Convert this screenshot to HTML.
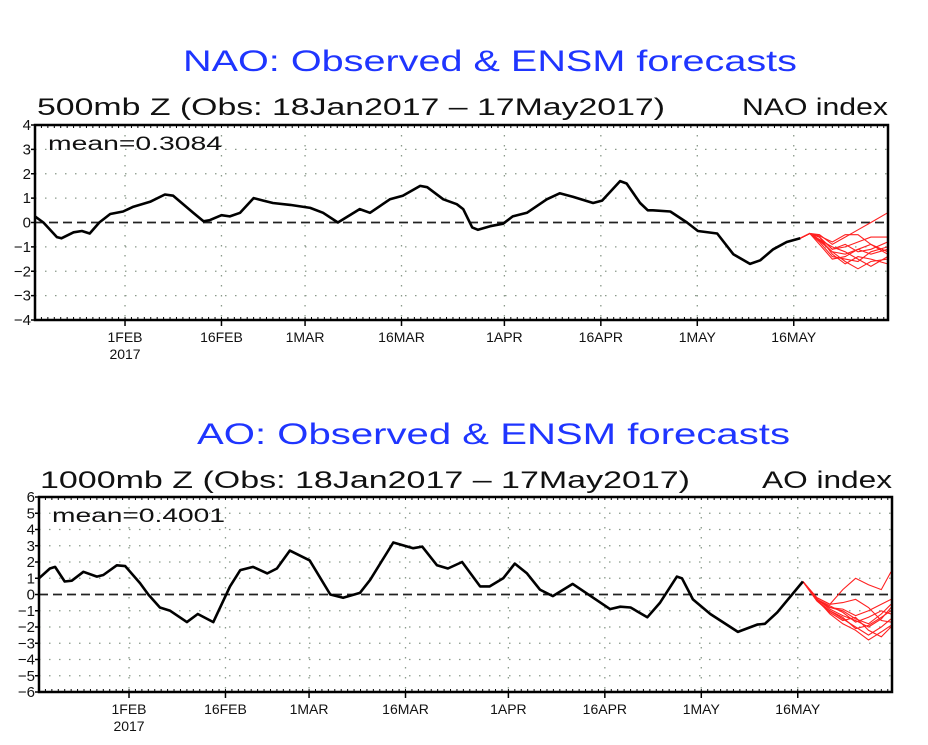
<!DOCTYPE html>
<html><head><meta charset="utf-8">
<style>
html,body{margin:0;padding:0;background:#fff;}
svg{display:block;font-family:"Liberation Sans",sans-serif;}
</style></head>
<body>
<svg id="svg" width="928" height="745" viewBox="0 0 928 745"></svg>
<script>
// ---- data ----
const monthTickDays = [14, 29, 42, 57, 73, 88, 103, 118];
const monthTickLabels = ["1FEB", "16FEB", "1MAR", "16MAR", "1APR", "16APR", "1MAY", "16MAY"];
const naoYTicks = [4,3,2,1,0,-1,-2,-3,-4];
const aoYTicks = [6,5,4,3,2,1,0,-1,-2,-3,-4,-5,-6];

const naoObsDays = [0,1.3,3.4,4.1,6,7.3,8.5,10,11.7,13.7,15.3,17.9,20.2,21.5,24.6,26.2,27.2,29,30.3,31.9,34,35.5,37,39.7,42.8,44.8,47.1,50.5,52.1,55.2,57.2,59.9,61,63.5,65.6,66.6,68,68.9,70.8,72.8,74.3,76.5,79.6,81.6,83.7,86.8,88.2,91,92,94.1,95.3,96.1,98.8,101.4,103.1,106.1,108.6,111.2,112.8,114.8,116.9,119];
const naoObsVals = [0.25,0.0,-0.6,-0.65,-0.4,-0.35,-0.45,0.0,0.35,0.45,0.65,0.85,1.15,1.1,0.4,0.05,0.1,0.3,0.25,0.4,1.0,0.9,0.8,0.72,0.6,0.4,0.0,0.55,0.4,0.95,1.1,1.5,1.45,0.95,0.75,0.55,-0.2,-0.3,-0.15,-0.05,0.25,0.4,0.95,1.2,1.05,0.8,0.9,1.7,1.6,0.8,0.5,0.5,0.45,0.0,-0.35,-0.45,-1.3,-1.7,-1.55,-1.1,-0.8,-0.65];
const naoFcDays = [119,120.5,122,124,126,128,130,132.6];
const naoMembers = [
 [-0.65,-0.45,-0.5,-0.9,-0.6,-0.3,0.0,0.4],
 [-0.65,-0.45,-0.6,-1.1,-1.0,-0.8,-0.6,-0.6],
 [-0.65,-0.45,-0.7,-1.2,-1.3,-1.1,-0.9,-1.3],
 [-0.65,-0.45,-0.8,-1.4,-1.5,-1.6,-1.2,-1.0],
 [-0.65,-0.45,-0.6,-1.3,-1.7,-1.4,-1.5,-1.7],
 [-0.65,-0.45,-0.7,-1.0,-1.2,-1.5,-1.8,-1.4],
 [-0.65,-0.45,-0.6,-1.1,-0.9,-1.2,-1.1,-0.8],
 [-0.65,-0.45,-0.9,-1.5,-1.4,-1.1,-1.3,-1.1],
 [-0.65,-0.45,-0.55,-0.8,-0.5,-0.5,-0.9,-1.2],
 [-0.65,-0.45,-0.75,-1.2,-1.6,-1.9,-1.6,-1.5]
];

const aoObsDays = [0,1.7,2.5,4,5.1,6.9,9,10,12.1,13.4,15.7,17,18.8,20.4,23,24.7,27.1,29.7,31.3,33.3,35.5,37,39,42.1,45.3,47.3,49.9,51.5,55.1,58.2,59.6,61.9,63.6,65.8,68.6,70.1,72.2,74,75.9,77.9,79.9,83,86.2,88.8,90.4,92,94.6,96.6,99.2,100,101.7,104.4,108.7,111.7,112.9,114.8,118.8];
const aoObsVals = [1.0,1.6,1.7,0.8,0.85,1.4,1.1,1.2,1.8,1.75,0.7,0.0,-0.8,-1.0,-1.7,-1.2,-1.7,0.5,1.5,1.7,1.3,1.6,2.7,2.1,0.0,-0.2,0.1,0.9,3.2,2.85,2.95,1.8,1.6,2.0,0.5,0.5,1.0,1.9,1.3,0.3,-0.1,0.65,-0.2,-0.9,-0.75,-0.8,-1.4,-0.5,1.1,1.0,-0.3,-1.2,-2.3,-1.85,-1.8,-1.1,0.8];
const aoFcDays = [118.8,121,123,125,127,129,131,132.5];
const aoMembers = [
 [0.8,-0.2,-0.6,0.3,1.0,0.6,0.3,1.4],
 [0.8,-0.3,-0.8,-0.9,-1.3,-1.0,-0.6,-0.3],
 [0.8,-0.3,-0.9,-1.3,-1.6,-2.0,-1.5,-0.8],
 [0.8,-0.4,-1.0,-1.5,-2.0,-2.5,-2.0,-1.5],
 [0.8,-0.3,-1.2,-1.8,-2.2,-2.8,-2.3,-1.9],
 [0.8,-0.3,-0.8,-1.0,-1.5,-1.8,-1.2,-0.6],
 [0.8,-0.4,-1.1,-1.6,-1.4,-2.2,-2.6,-2.0],
 [0.8,-0.3,-0.7,-1.1,-1.7,-1.4,-1.0,-1.2],
 [0.8,-0.2,-0.6,-0.5,-0.3,-0.8,-1.6,-1.7],
 [0.8,-0.4,-1.0,-1.4,-2.1,-1.9,-1.4,-1.0]
];

const NS = "http://www.w3.org/2000/svg";
const svg = document.getElementById("svg");
function mk(tag, attrs, parent){
  const e = document.createElementNS(NS, tag);
  for (const k in attrs) e.setAttribute(k, attrs[k]);
  (parent||svg).appendChild(e);
  return e;
}
function txt(s, attrs, parent){ const t = mk("text", attrs, parent); t.textContent = s; return t; }

function drawPanel(cfg){
  const g = mk("g", {});
  
  
  const L=cfg.L,R=cfg.R,T=cfg.T,B=cfg.B;
  const xs = d => L + d*cfg.dx;
  const ys = v => T + (cfg.ymax - v)/(cfg.ymax - cfg.ymin)*(B-T);
  // titles
  const t1 = txt(cfg.title, {x:cfg.tx0, y:cfg.ty, "font-size":30, fill:"#1f35ff", textLength:cfg.tx1-cfg.tx0, lengthAdjust:"spacingAndGlyphs"}, g);
  
  
  const t2 = txt(cfg.sub, {x:cfg.sx0, y:cfg.sy, "font-size":24, fill:"#111", textLength:cfg.sx1-cfg.sx0, lengthAdjust:"spacingAndGlyphs"}, g);
  
  
  const t3 = txt(cfg.idx, {x:cfg.ix0, y:cfg.sy, "font-size":24, fill:"#111", textLength:cfg.ix1-cfg.ix0, lengthAdjust:"spacingAndGlyphs"}, g);
  
  
  // grid
  cfg.yticks.forEach(v=>{
    if (v!==cfg.ymax && v!==cfg.ymin && v!==0){
      const l = mk("line",{x1:L,x2:R,y1:ys(v),y2:ys(v),stroke:"#8a9a8a","stroke-width":1.3,"stroke-dasharray":"1.5 8.5"},g);
      
      
    }
    const lb = txt(String(v).replace("-","\u2212"), {x:L-4,y:ys(v)+5,"font-size":15,"text-anchor":"end",fill:"#111"}, g);
    
    
    const tk = mk("line",{x1:L-4,x2:L,y1:ys(v),y2:ys(v),stroke:"#000","stroke-width":1.5},g);
    
    
  });
  monthTickDays.forEach((d,i)=>{
    const l = mk("line",{x1:xs(d),x2:xs(d),y1:T,y2:B,stroke:"#8a9a8a","stroke-width":1.3,"stroke-dasharray":"1.5 8.5"},g);
    
    
    const tk = mk("line",{x1:xs(d),x2:xs(d),y1:B,y2:B+6,stroke:"#000","stroke-width":1.5},g);
    
    
    const lb = txt(monthTickLabels[i], {x:xs(d),y:B+22,"font-size":14,"text-anchor":"middle",fill:"#111"}, g);
    
    
  });
  const yr = txt("2017", {x:xs(14),y:B+39,"font-size":14,"text-anchor":"middle",fill:"#111"}, g);
  
  
  // zero line
  const z = mk("line",{x1:L,x2:R,y1:ys(0),y2:ys(0),stroke:"#222","stroke-width":1.8,"stroke-dasharray":"9 5"},g);
  
  
  // members
  const clip = mk("clipPath",{id:cfg.name+"-clip"},g);
  mk("rect",{x:L,y:T,width:R-L,height:B-T},clip);
  cfg.members.forEach(m=>{
    const pts = m.map((v,i)=>xs(cfg.fcDays[i]).toFixed(1)+","+ys(v).toFixed(1)).join(" ");
    const p = mk("polyline",{points:pts,fill:"none",stroke:"#ff2020","stroke-width":1.1,"clip-path":"url(#"+cfg.name+"-clip)"},g);
    
    
  });
  // observed
  const pts = cfg.obsVals.map((v,i)=>xs(cfg.obsDays[i]).toFixed(1)+","+ys(v).toFixed(1)).join(" ");
  const o = mk("polyline",{points:pts,fill:"none",stroke:"#000","stroke-width":2.6,"stroke-linejoin":"round"},g);
  
  
  // frame
  const f = mk("rect",{x:L,y:T,width:R-L,height:B-T,fill:"none",stroke:"#000","stroke-width":2.5},g);
  
  
  for (let d=1; xs(d)<R; d++){
    const a = mk("line",{x1:xs(d),x2:xs(d),y1:T,y2:T+3,stroke:"#000","stroke-width":1},g);
    
    
    const b = mk("line",{x1:xs(d),x2:xs(d),y1:B-3,y2:B,stroke:"#000","stroke-width":1},g);
    
    
  }
  const mt = txt(cfg.mean, {x:cfg.mx0,y:cfg.my,"font-size":19,fill:"#111",textLength:cfg.mx1-cfg.mx0,lengthAdjust:"spacingAndGlyphs"}, g);
  
  
}

drawPanel({name:"nao-panel",L:35,R:888,T:125,B:320,dx:6.43,ymax:4,ymin:-4,yticks:naoYTicks,
  title:"NAO: Observed & ENSM forecasts",tx0:183,tx1:797,ty:71,
  sub:"500mb Z (Obs: 18Jan2017 \u2013 17May2017)",sx0:37,sx1:665,sy:115,
  idx:"NAO index",ix0:742,ix1:888,
  mean:"mean=0.3084",mx0:48,mx1:222,my:150,
  obsDays:naoObsDays,obsVals:naoObsVals,fcDays:naoFcDays,members:naoMembers});

drawPanel({name:"ao-panel",L:39,R:892,T:497,B:692,dx:6.43,ymax:6,ymin:-6,yticks:aoYTicks,
  title:"AO: Observed & ENSM forecasts",tx0:197,tx1:790,ty:444,
  sub:"1000mb Z (Obs: 18Jan2017 \u2013 17May2017)",sx0:40,sx1:690,sy:488,
  idx:"AO index",ix0:762,ix1:892,
  mean:"mean=0.4001",mx0:52,mx1:225,my:522,
  obsDays:aoObsDays,obsVals:aoObsVals,fcDays:aoFcDays,members:aoMembers});
</script>
</body></html>
